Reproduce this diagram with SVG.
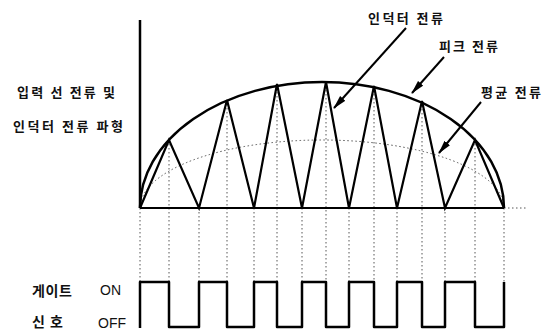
<svg xmlns="http://www.w3.org/2000/svg" width="552" height="334" viewBox="0 0 552 334">
<style>
.ko{font-family:"Noto Sans CJK KR","Noto Sans",sans-serif;font-size:13px;font-weight:bold;fill:#111}
.en{font-family:"Liberation Sans",Arial,sans-serif;font-size:14px;fill:#111}
.thick{fill:none;stroke:#000;stroke-width:2.5;stroke-linejoin:round}
.tri{fill:none;stroke:#000;stroke-width:2.2;stroke-linejoin:miter}
.dot{fill:none;stroke:#444;stroke-width:0.9;stroke-dasharray:1.5,2.5}
.arr{fill:none;stroke:#000;stroke-width:2}
</style>
<defs>
<marker id="ah" markerWidth="14" markerHeight="8" refX="13" refY="4" orient="auto" markerUnits="userSpaceOnUse">
<path d="M0,0.5 L14,4 L0,7.5 Z" fill="#000"/>
</marker>
</defs>
<rect width="552" height="334" fill="#fff"/>

<g id="labels">
<g id="label-input"><text class="ko" x="17" y="97" textLength="98" lengthAdjust="spacing">입력 선 전류 및</text></g>
<g id="label-wave"><text class="ko" x="13" y="131" textLength="110" lengthAdjust="spacing">인덕터 전류 파형</text></g>
<g id="label-inductor"><text class="ko" x="368" y="23" textLength="75" lengthAdjust="spacing">인덕터 전류</text></g>
<g id="label-peak"><text class="ko" x="439" y="51" textLength="59" lengthAdjust="spacing">피크 전류</text></g>
<g id="label-avg"><text class="ko" x="481" y="97" textLength="60" lengthAdjust="spacing">평균 전류</text></g>
<g id="label-gate"><text class="ko" x="32" y="296" textLength="40" lengthAdjust="spacing" style="font-size:14px">게이트</text>
<text class="en" x="100" y="295">ON</text></g>
<g id="label-signal"><text class="ko" x="32" y="327" textLength="31" lengthAdjust="spacing" style="font-size:14px">신 호</text>
<text class="en" x="98" y="328">OFF</text></g>
</g>

<g id="guides">
<path class="dot" d="M140,208V282 M169,140V282 M199,208V282 M227,100V282 M254,208V282 M277,84V282 M302,208V282 M326,82V282 M349,208V282 M374,86V282 M397,208V282 M422,101V282 M445,208V282 M475,140V282 M504,208V282"/>
<path class="dot" d="M504,208H526"/>
<path class="dot" d="M140,208 A182,68 0 0 1 504,208"/>
</g>

<g id="axes">
<path class="thick" d="M140,20V208"/>
<path class="tri" d="M140,208H504"/>
</g>

<g id="peak-envelope">
<path class="thick" d="M140,208 A182,126 0 0 1 504,208"/>
</g>

<g id="inductor-current">
<path class="tri" d="M140,208 L169,140 L199,208 L227,100 L254,208 L277,84 L302,208 L326,82 L349,208 L374,86 L397,208 L422,101 L445,208 L475,140 L504,208"/>
</g>

<g id="gate-signal">
<path class="thick" d="M140,328 V282 H169 V327 H199 V282 H227 V327 H254 V282 H277 V327 H302 V282 H326 V327 H349 V282 H374 V327 H397 V282 H422 V327 H445 V282 H475 V327 H504 V282"/>
</g>

<g id="connectors">
<line class="arr" x1="406" y1="28" x2="334" y2="108" marker-end="url(#ah)"/>
<line class="arr" x1="444" y1="57" x2="412" y2="93" marker-end="url(#ah)"/>
<line class="arr" x1="481" y1="102" x2="439" y2="153" marker-end="url(#ah)"/>
</g>
</svg>
